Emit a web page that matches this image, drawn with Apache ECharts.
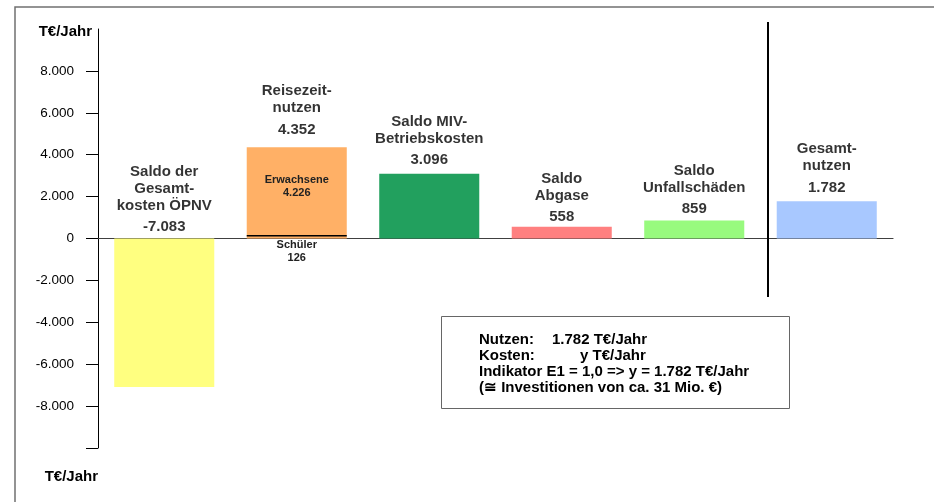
<!DOCTYPE html>
<html>
<head>
<meta charset="utf-8">
<script src="https://cdn.jsdelivr.net/npm/echarts@6/dist/echarts.min.js"></script>
<style>
html,body{margin:0;padding:0;background:#fff;}
#c{width:934px;height:502px;}
</style>
</head>
<body>
<div id="c"></div>
<script>
// ---- data ----
const categories = ['Saldo der\nGesamt-\nkosten ÖPNV', 'Reisezeit-\nnutzen', 'Saldo MIV-\nBetriebskosten', 'Saldo\nAbgase', 'Saldo\nUnfallschäden', 'Gesamt-\nnutzen'];
const totals = [-7083, 4352, 3096, 558, 859, 1782];
const schueler = [null, 126, null, null, null, null];
const erwachsene = [null, 4226, null, null, null, null];
const yTickValues = [-10000, -8000, -6000, -4000, -2000, 0, 2000, 4000, 6000, 8000];
const yLabelValues = [-8000, -6000, -4000, -2000, 0, 2000, 4000, 6000, 8000];
const unitLabel = 'T€/Jahr';
const boxLines = [
  ['Nutzen:', '1.782 T€/Jahr'],
  ['Kosten:', 'y T€/Jahr'],
  ['Indikator E1 = 1,0 => y = 1.782 T€/Jahr'],
  ['(≅ Investitionen von ca. 31 Mio. €)']
];

// ---- styles ----
const barColors = ['#FFFF80', '#FFB066', '#22A05E', '#FF8080', '#98FA7E', '#A8C8FF'];
const orange = '#FFB066';
const FONT = '"Liberation Sans", Arial, sans-serif';

function fmt(v) {
  const s = Math.abs(v).toString().replace(/\B(?=(\d{3})+(?!\d))/g, '.');
  return (v < 0 ? '-' : '') + s;
}

const labelDist = [-2, 4, 0, -4, -2, 0];
const mainData = totals.map((v, i) => (erwachsene[i] != null ? '-' : { value: v, itemStyle: { color: barColors[i] } }));
const anchorData = totals.map((v, i) => ({ value: [i, Math.max(v, 0)], label: { distance: labelDist[i] } }));

const chart = echarts.init(document.getElementById('c'), null, { renderer: 'canvas' });

const graphic = [
  { type: 'polyline', shape: { points: [[15, 502], [15, 7], [934, 7]] }, style: { stroke: '#707070', lineWidth: 1.5, fill: null }, z: 100 },
  { type: 'line', shape: { x1: 768, y1: 22, x2: 768, y2: 297 }, style: { stroke: '#000', lineWidth: 2 }, z: 100 },
  { type: 'text', x: 92, y: 32, style: { text: unitLabel, font: 'bold 15px ' + FONT, fill: '#000', align: 'right', verticalAlign: 'middle' } },
  { type: 'text', x: 98, y: 477, style: { text: unitLabel, font: 'bold 15px ' + FONT, fill: '#000', align: 'right', verticalAlign: 'middle' } },
  { type: 'rect', shape: { x: 441.5, y: 316.5, width: 348, height: 92 }, style: { stroke: '#666', lineWidth: 1, fill: '#fff' }, z: 90 }
];
const lineY = [340, 356, 372, 388];
const secondX = [552, 580];
boxLines.forEach((ln, k) => {
  graphic.push({ type: 'text', x: 479, y: lineY[k], z: 95, style: { text: ln[0], font: 'bold 15px ' + FONT, fill: '#000', verticalAlign: 'middle' } });
  if (ln[1]) graphic.push({ type: 'text', x: secondX[k], y: lineY[k], z: 95, style: { text: ln[1], font: 'bold 15px ' + FONT, fill: '#000', verticalAlign: 'middle' } });
});

const option = {
  animation: false,
  backgroundColor: '#fff',
  grid: { left: 98, right: 41, top: 29, bottom: 54, containLabel: false },
  xAxis: {
    type: 'category',
    data: categories,
    axisLine: { onZero: true, lineStyle: { color: '#404040', width: 1.2 } },
    axisTick: { show: false },
    axisLabel: { show: false },
    splitLine: { show: false }
  },
  yAxis: {
    type: 'value',
    min: -10000,
    max: 10000,
    interval: 2000,
    axisLine: { show: true, lineStyle: { color: '#000', width: 1 } },
    axisTick: { show: true, length: 12, customValues: yTickValues, lineStyle: { color: '#000' } },
    axisLabel: { customValues: yLabelValues, margin: 24, padding: [6, 0, 0, 0], color: '#000', fontSize: 13.5, fontFamily: FONT, formatter: v => fmt(v) },
    splitLine: { show: false }
  },
  series: [
    {
      type: 'bar', name: 'main', data: mainData, barWidth: '75.5%', barGap: '-100%'
    },
    {
      type: 'bar', name: 'Schüler', stack: 'r', data: schueler, barWidth: '75.5%', barGap: '-100%',
      itemStyle: { color: orange },
      label: { show: true, position: 'bottom', distance: 0, color: '#222', fontSize: 11, fontWeight: 'bold', fontFamily: FONT, lineHeight: 13,
        formatter: p => p.seriesName + '\n' + fmt(p.value) }
    },
    {
      type: 'bar', name: 'Erwachsene', stack: 'r', data: erwachsene, barWidth: '75.5%', barGap: '-100%',
      itemStyle: { color: orange },
      label: { show: true, position: 'inside', offset: [0, -5], color: '#222', fontSize: 11, fontWeight: 'bold', fontFamily: FONT, lineHeight: 13,
        formatter: p => p.seriesName + '\n' + fmt(p.value) }
    },
    {
      type: 'custom', name: 'boundary', data: schueler.map((v, i) => (v != null ? [i, v] : null)).filter(Boolean),
      renderItem: (params, api) => {
        const p = api.coord([api.value(0), api.value(1)]);
        const w = api.size([1, 0])[0] * 0.755;
        return { type: 'line', shape: { x1: p[0] - w / 2, y1: p[1], x2: p[0] + w / 2, y2: p[1] }, style: { stroke: '#000', lineWidth: 1.5 } };
      },
      z: 5
    },
    {
      type: 'scatter', name: 'labels', data: anchorData, symbolSize: 1, itemStyle: { color: 'rgba(0,0,0,0)' }, silent: true,
      label: {
        show: true, position: 'top', color: '#000', fontFamily: FONT, align: 'center',
        formatter: p => '{n|' + categories[p.dataIndex] + '}\n{v|' + fmt(totals[p.dataIndex]) + '}',
        rich: {
          n: { fontSize: 15, fontWeight: 'bold', lineHeight: 17, fontFamily: FONT, color: '#000', align: 'center' },
          v: { fontSize: 15, fontWeight: 'bold', lineHeight: 26, fontFamily: FONT, color: '#000', align: 'center' }
        }
      },
      z: 10
    }
  ],
  graphic: graphic
};
chart.setOption(option);
</script>
</body>
</html>
